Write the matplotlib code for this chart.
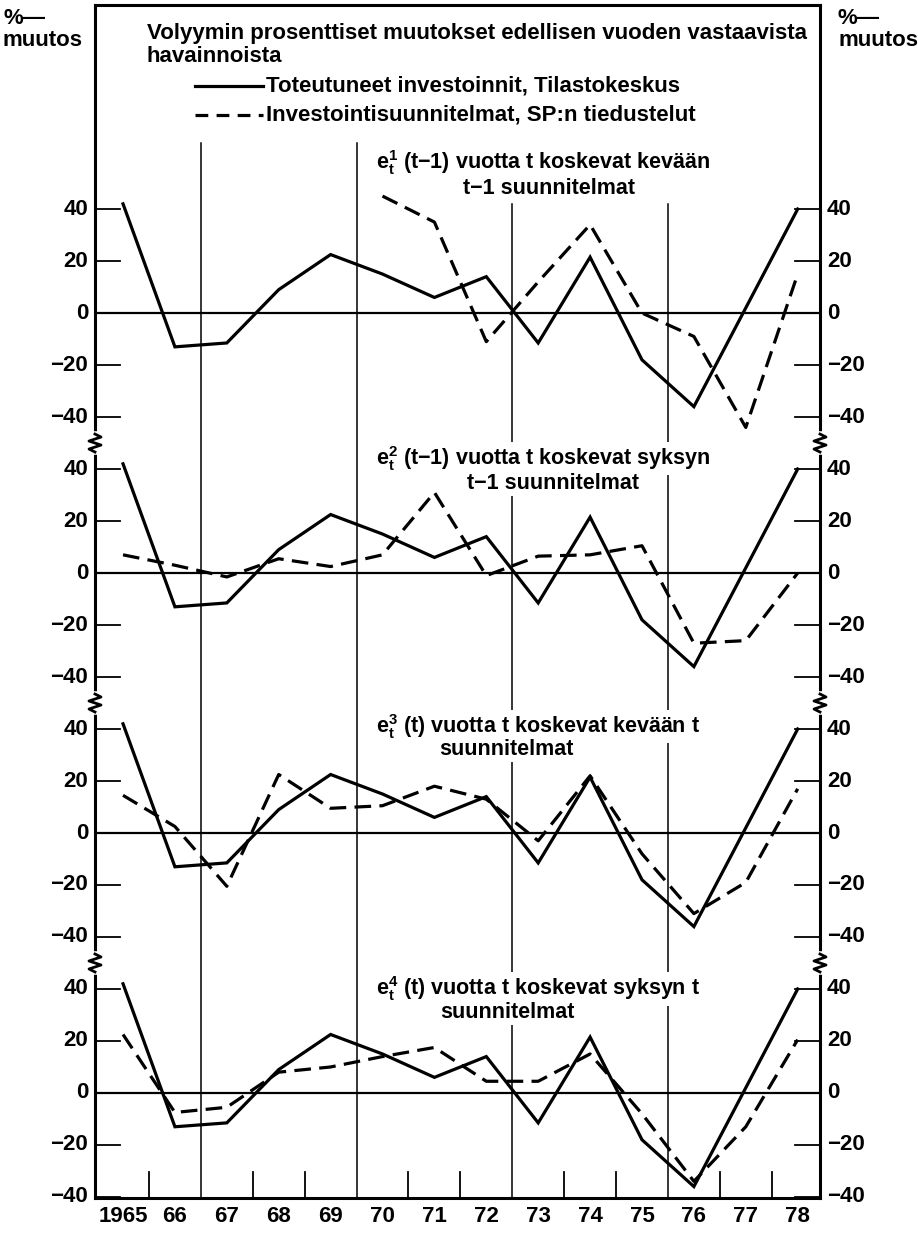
import numpy as np
import matplotlib
matplotlib.use("Agg")
import matplotlib.pyplot as plt
from matplotlib.lines import Line2D

plt.rcParams['font.family'] = ['Liberation Sans', 'DejaVu Sans']
plt.rcParams['font.weight'] = 'bold'
plt.rcParams['mathtext.fontset'] = 'custom'
plt.rcParams['mathtext.rm'] = 'Liberation Sans:bold'
plt.rcParams['mathtext.it'] = 'Liberation Sans:bold'
plt.rcParams['mathtext.bf'] = 'Liberation Sans:bold'

# ---------------- data ----------------
years = ["1965", "66", "67", "68", "69", "70", "71", "72", "73", "74", "75", "76", "77", "78"]
actual = [42, -13, -11.5, 9, 22.5, 15, 6, 14, -11.5, 21.5, -18, -36, 2, 40]
plan_e1 = [np.nan, np.nan, np.nan, np.nan, np.nan, 45, 35, -11, 12, 34, 0, -9, -44, 15]
plan_e2 = [7, 3, -1.5, 5.5, 2.5, 7, 31, -1, 6.5, 7, 10.5, -27, -26, 0]
plan_e3 = [14.5, 2.5, -20.5, 22.5, 9.5, 10.5, 18, 13, -3, 22, -8, -31, -19, 17]
plan_e4 = [22.5, -7.5, -5.5, 8, 10, 14, 17.5, 4.5, 4.5, 15, -8, -34, -13, 20.5]
plans = [plan_e1, plan_e2, plan_e3, plan_e4]
tick_values = [40, 20, 0, -20, -40]
tick_labels = ["40", "20", "0", "\u221220", "\u221240"]
MINUS = "\u2212"
panel_line1 = [r"$\mathrm{e}_\mathrm{t}^\mathrm{1}$" + " (t" + MINUS + "1) vuotta t koskevat kevään",
               r"$\mathrm{e}_\mathrm{t}^\mathrm{2}$" + " (t" + MINUS + "1) vuotta t koskevat syksyn",
               r"$\mathrm{e}_\mathrm{t}^\mathrm{3}$" + " (t) vuotta t koskevat kevään t",
               r"$\mathrm{e}_\mathrm{t}^\mathrm{4}$" + " (t) vuotta t koskevat syksyn t"]
panel_line2 = ["t" + MINUS + "1 suunnitelmat", "t" + MINUS + "1 suunnitelmat", "suunnitelmat", "suunnitelmat"]
title_lines = ["Volyymin prosenttiset muutokset edellisen vuoden vastaavista", "havainnoista"]
legend_labels = ["Toteutuneet investoinnit, Tilastokeskus", "Investointisuunnitelmat, SP:n tiedustelut"]

# ---------------- layout ----------------
W, H = 918, 1234
fig = plt.figure(figsize=(W / 100, H / 100), dpi=100)
ax_l, ax_r, ax_t, ax_b = 95, 820, 5, 1198
ax = fig.add_axes([ax_l / W, 1 - ax_b / H, (ax_r - ax_l) / W, (ax_b - ax_t) / H])
XMIN, XMAX = -0.54, 13.43
YMIN, YMAX = -340.4, 118.5
ax.set_xlim(XMIN, XMAX)
ax.set_ylim(YMIN, YMAX)
pxx = (ax_r - ax_l) / (XMAX - XMIN)   # px per x unit
pxy = (ax_b - ax_t) / (YMAX - YMIN)   # px per y unit

offsets = [0, -100, -200, -300]
x = np.arange(len(years))
FS = 16
LW = 2.3
DASH = (5.2, 2.6)

for s in ax.spines.values():
    s.set_linewidth(2.2)
ax.set_yticks([])
ax.set_xticks(x)
ax.set_xticklabels(years, fontsize=FS, fontweight='bold')
ax.tick_params(axis='x', length=0, pad=6)

# vertical reference lines every three years
for xv in [1.5, 4.5]:
    ax.plot([xv, xv], [YMIN, 65.4], color='black', lw=1.1, zorder=1)
for xv in [7.5, 10.5]:
    ax.plot([xv, xv], [YMIN, 42], color='black', lw=1.1, zorder=1)
# small ticks on bottom axis
for xv in [0.5, 2.5, 3.5, 5.5, 6.5, 8.5, 9.5, 11.5, 12.5]:
    ax.plot([xv, xv], [YMIN, YMIN + 26 / pxy], color='black', lw=1.3, zorder=1)

tick_len = 25 / pxx
line1_y = [58, 44, 41, 40]
line2_y = [48, 34.5, 32, 31]
line1_x = 4.88
line2_x = [6.55, 6.62, 6.1, 6.12]

for k, off in enumerate(offsets):
    # zero line
    ax.plot([XMIN, XMAX], [off, off], color='black', lw=1.6, zorder=2)
    for v, lab in zip(tick_values, tick_labels):
        yv = off + v
        if v != 0:
            ax.plot([XMIN, XMIN + tick_len], [yv, yv], color='black', lw=1.3, zorder=2)
            ax.plot([XMAX - tick_len, XMAX], [yv, yv], color='black', lw=1.3, zorder=2)
        ax.annotate(lab, xy=(0, yv), xycoords=('axes fraction', 'data'),
                    xytext=(-5, 0), textcoords='offset points', ha='right', va='center',
                    fontsize=FS, fontweight='bold')
        ax.annotate(lab, xy=(1, yv), xycoords=('axes fraction', 'data'),
                    xytext=(5, 0), textcoords='offset points', ha='left', va='center',
                    fontsize=FS, fontweight='bold')
    # series
    ax.plot(x, np.array(actual) + off, color='black', lw=LW, zorder=4,
            solid_joinstyle='miter')
    ax.plot(x, np.array(plans[k]) + off, color='black', lw=LW, zorder=4,
            linestyle=(0, DASH))
    # annotation text
    bb = dict(facecolor='white', edgecolor='none', pad=1.5)
    ax.text(line1_x, off + line1_y[k], panel_line1[k], fontsize=FS - 0.5, fontweight='bold',
            ha='left', va='center', zorder=3, bbox=bb)
    ax.text(line2_x[k], off + line2_y[k], panel_line2[k], fontsize=FS - 0.5, fontweight='bold',
            ha='left', va='center', zorder=3, bbox=bb)

# axis breaks (zigzags)
zz_x = np.array([0, 6, -6, 6, -6, 0]) / pxx
zz_y = np.array([9, 6, 2, -2, -6, -9]) / pxy
for yb in [-50, -150, -250]:
    for xb in [XMIN, XMAX]:
        ax.plot([xb, xb], [yb - 9 / pxy, yb + 9 / pxy], color='white', lw=4, zorder=5,
                clip_on=False)
        ax.plot(xb + zz_x, yb + zz_y, color='black', lw=2.0, zorder=6, clip_on=False)

# ---------------- header ----------------
def fx(px):
    return px / W

def fy(py):
    return 1 - py / H

fig.text(fx(147), fy(33), title_lines[0], fontsize=FS, fontweight='bold', va='center', ha='left')
fig.text(fx(147), fy(56), title_lines[1], fontsize=FS, fontweight='bold', va='center', ha='left')
fig.add_artist(Line2D([fx(195), fx(263)], [fy(86), fy(86)], color='black', lw=LW))
fig.add_artist(Line2D([fx(195), fx(263)], [fy(115), fy(115)], color='black', lw=LW,
                      linestyle=(0, (4.0, 2.6))))
fig.text(fx(266), fy(86), legend_labels[0], fontsize=FS, fontweight='bold', va='center', ha='left')
fig.text(fx(266), fy(115), legend_labels[1], fontsize=FS, fontweight='bold', va='center', ha='left')

for xx in [3, 838]:
    fig.text(fx(xx), fy(18), "%\u2014", fontsize=FS, fontweight='bold', va='center', ha='left')
    fig.text(fx(xx), fy(40), "muutos", fontsize=FS, fontweight='bold', va='center', ha='left')

fig.savefig("out.png", dpi=100, facecolor='white')
